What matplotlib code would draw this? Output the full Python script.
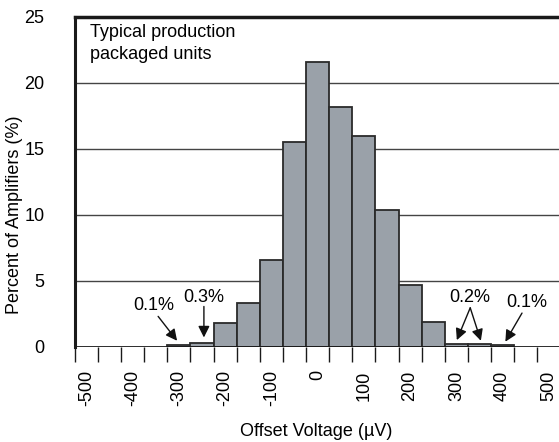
import matplotlib
matplotlib.use("Agg")
import matplotlib.pyplot as plt
import numpy as np

plt.rcParams['font.family'] = ['Liberation Sans', 'DejaVu Sans']

# Data
bin_left = [-300, -250, -200, -150, -100, -50, 0, 50, 100, 150, 200, 250, 300, 350, 400]
percent = [0.1, 0.3, 1.8, 3.35, 6.55, 15.5, 21.6, 18.2, 16.0, 10.35, 4.65, 1.85, 0.2, 0.2, 0.1]
bin_width = 50
tick_marks = list(range(-500, 501, 50))
tick_label_values = list(range(-500, 501, 100))
y_ticks = [0, 5, 10, 15, 20, 25]

fs = 13

fig = plt.figure(figsize=(5.59, 4.42), dpi=100)
ax = fig.add_axes([0.134, 0.2156, 0.866, 0.746])

ax.set_xlim(-500, 547)
ax.set_ylim(0, 25)

# gridlines
for yv in y_ticks[1:-1]:
    ax.axhline(yv, color='#444444', lw=1.0, zorder=1)

ax.bar(bin_left, percent, width=bin_width, align='edge', color='#9aa1a9',
       edgecolor='#2a2a2a', linewidth=1.3, zorder=2)

ax.axhline(0, color='#1a1a1a', lw=2.0, zorder=3)

for s in ['right', 'bottom']:
    ax.spines[s].set_visible(False)
ax.spines['left'].set_linewidth(2.2)
ax.spines['top'].set_linewidth(2.5)
ax.spines['left'].set_color('#1a1a1a')
ax.spines['top'].set_color('#1a1a1a')

ax.set_yticks(y_ticks)
ax.tick_params(axis='y', length=0, labelsize=fs, pad=22)

ax.set_xticks(tick_marks, minor=True)
ax.set_xticks([v + 25 for v in tick_label_values])
ax.set_xticklabels([str(v) for v in tick_label_values], rotation=90, va='top', ha='center')
ax.tick_params(axis='x', which='minor', direction='out', length=10.8, width=1.0, color='#1a1a1a')
ax.tick_params(axis='x', which='major', length=0, pad=17, labelsize=fs)

fig.text(15 / 559, 1 - 215 / 442, 'Percent of Amplifiers (%)', fontsize=fs,
         rotation=90, ha='center', va='center')
fig.text(316 / 559, 1 - 432 / 442, 'Offset Voltage (\u00b5V)', fontsize=fs,
         ha='center', va='center')

ax.text(-468, 24.45, 'Typical production\npackaged units', fontsize=fs,
        va='top', ha='left', linespacing=1.4)

ap = dict(arrowstyle='-|>', color='#111111', lw=1.0, mutation_scale=17, shrinkA=0, shrinkB=0)
ax.text(-329, 3.1, '0.1%', fontsize=fs, ha='center', va='center')
ax.annotate('', xy=(-279, 0.45), xytext=(-320, 2.3), arrowprops=ap)
ax.text(-221, 3.75, '0.3%', fontsize=fs, ha='center', va='center')
ax.annotate('', xy=(-221, 0.7), xytext=(-221, 3.05), arrowprops=ap)
ax.text(355, 3.75, '0.2%', fontsize=fs, ha='center', va='center')
ax.annotate('', xy=(326, 0.5), xytext=(355, 2.95), arrowprops=ap)
ax.annotate('', xy=(378, 0.45), xytext=(355, 2.95), arrowprops=ap)
ax.text(478, 3.37, '0.1%', fontsize=fs, ha='center', va='center')
ax.annotate('', xy=(431, 0.38), xytext=(467, 2.55), arrowprops=ap)

fig.savefig('out.png', dpi=100)
